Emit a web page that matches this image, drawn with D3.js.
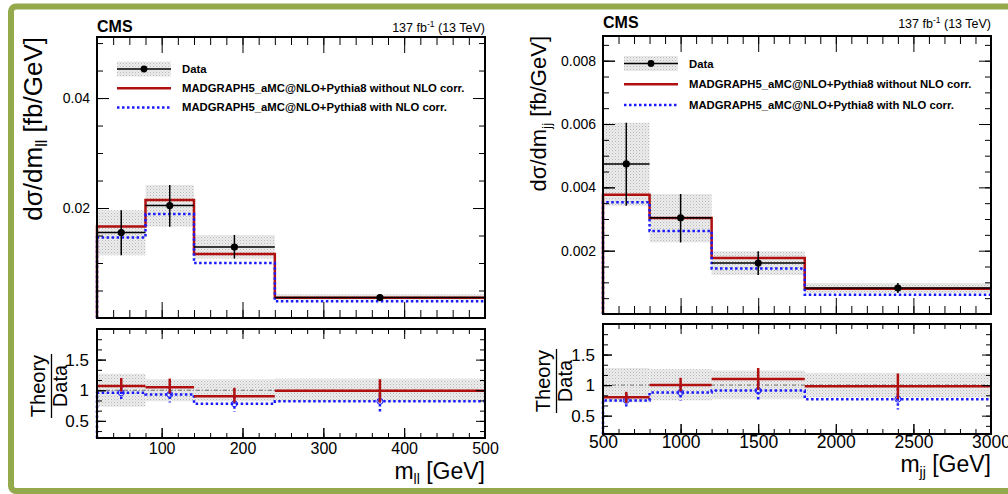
<!DOCTYPE html>
<html>
<head>
<meta charset="utf-8">
<script src="https://cdn.jsdelivr.net/npm/d3@7"></script>
<style>
  html, body { margin: 0; padding: 0; background: #fff; }
  svg { display: block; font-family: "Liberation Sans", Arial, Helvetica, sans-serif; }
</style>
</head>
<body>
<div id="chart"></div>
<script>
// ---- data ----
const legendLabels = ["Data", "MADGRAPH5_aMC@NLO+Pythia8 without NLO corr.", "MADGRAPH5_aMC@NLO+Pythia8 with NLO corr."];

// m_ll panel
const mllEdges = [20, 80, 140, 240, 500];
const mllData = [0.01553, 0.02044, 0.0129, 0.00371];
const mllDataLo = [0.0114, 0.0166, 0.0108, 0.0033];
const mllDataHi = [0.0196, 0.0242, 0.0151, 0.0043];
const mllNoNlo = [0.01662, 0.02145, 0.01164, 0.0037];
const mllWithNlo = [0.01462, 0.0189, 0.0100, 0.00304];
const mllRatioNoNlo = [1.07, 1.05, 0.90, 0.99];
const mllRatioNoNloLo = [0.98, 0.95, 0.80, 0.80];
const mllRatioNoNloHi = [1.20, 1.19, 1.04, 1.18];
const mllRatioWithNlo = [0.96, 0.93, 0.78, 0.82];
const mllRatioWithNloLo = [0.83, 0.80, 0.65, 0.62];
const mllRatioWithNloHi = [1.06, 1.06, 0.90, 1.02];
const mllBandLo = [0.73, 0.82, 0.82, 0.81];
const mllBandHi = [1.27, 1.18, 1.18, 1.19];
const mllYTicks = [0.02, 0.04];
const mllXTicks = [100, 200, 300, 400, 500];

// m_jj panel
const mjjEdges = [500, 800, 1200, 1800, 3000];
const mjjData = [0.00474, 0.00304, 0.00161, 0.00082];
const mjjDataLo = [0.00342, 0.00226, 0.00123, 0.00066];
const mjjDataHi = [0.00604, 0.00379, 0.00198, 0.00098];
const mjjNoNlo = [0.00377, 0.00303, 0.00177, 0.0008];
const mjjWithNlo = [0.00353, 0.00262, 0.00144, 0.00061];
const mjjRatioNoNlo = [0.80, 1.00, 1.10, 0.98];
const mjjRatioNoNloLo = [0.71, 0.90, 0.92, 0.77];
const mjjRatioNoNloHi = [0.89, 1.12, 1.28, 1.19];
const mjjRatioWithNlo = [0.75, 0.88, 0.91, 0.77];
const mjjRatioWithNloLo = [0.65, 0.75, 0.75, 0.60];
const mjjRatioWithNloHi = [0.85, 1.00, 1.05, 0.95];
const mjjBandLo = [0.72, 0.75, 0.77, 0.80];
const mjjBandHi = [1.28, 1.26, 1.24, 1.20];
const mjjYTicks = [0.002, 0.004, 0.006, 0.008];
const mjjXTicks = [500, 1000, 1500, 2000, 2500, 3000];

const ratioTicks = [0.5, 1, 1.5];

const RED = "#b01010", BLUE = "#1a1aff", GREEN = "#94a84c";
const width = 1008, height = 494;

const svg = d3.select("#chart").append("svg")
    .attr("width", width)
    .attr("height", height);

// dotted grey fill used by ROOT for uncertainty bands
const defs = svg.append("defs");
const pat = defs.append("pattern").attr("id", "band")
    .attr("width", 3).attr("height", 3).attr("patternUnits", "userSpaceOnUse");
pat.append("rect").attr("width", 3).attr("height", 3).attr("fill", "#ececec");
pat.append("rect").attr("width", 1).attr("height", 1).attr("fill", "#b8b8b8");
pat.append("rect").attr("x", 1.5).attr("y", 1.5).attr("width", 1).attr("height", 1).attr("fill", "#cfcfcf");

// slide frame
svg.append("rect")
    .attr("x", 11).attr("y", 6.5).attr("width", 1100).attr("height", 484.5)
    .attr("rx", 5)
    .attr("fill", "none").attr("stroke", GREEN).attr("stroke-width", 6);

/** inward ticks on one side of a frame */
const ticks = (g, axisFn, scale, values, len, pos, isX, labels, pad, size) => {
    const ax = axisFn(scale).tickValues(values).tickSize(-len)
        .tickPadding(pad || 6)
        .tickFormat(labels ? labels : "");
    const a = g.append("g")
        .attr("transform", isX ? `translate(0,${pos})` : `translate(${pos},0)`)
        .call(ax);
    a.select(".domain").remove();
    a.selectAll("line").attr("stroke", "#000").attr("stroke-width", 1);
    a.selectAll("text").attr("fill", "#000").attr("font-size", size || 15).attr("font-family", null);
    return a;
};

const minor = (lo, hi, step) => d3.range(Math.ceil(lo / step - 1e-9), Math.floor(hi / step + 1e-9) + 1).map(k => +(k * step).toFixed(6));

const drawPanel = (p) => {
    const g = svg.append("g");
    const x = d3.scaleLinear().domain([p.edges[0], p.edges[p.edges.length - 1]]).range([p.x0, p.x1]);
    const y = d3.scaleLinear().domain(p.yDomain).range([p.mid, p.top]);
    const yr = d3.scaleLinear().domain(p.rDomain).range([p.rbot, p.rtop]);
    const bins = d3.range(p.data.length).map(i => ({
        lo: p.edges[i], hi: p.edges[i + 1], c: (p.edges[i] + p.edges[i + 1]) / 2, i
    }));

    const clipU = "clipU" + p.id, clipR = "clipR" + p.id;
    defs.append("clipPath").attr("id", clipU).append("rect")
        .attr("x", p.x0 - 2).attr("y", p.top).attr("width", p.x1 - p.x0 + 2).attr("height", p.mid - p.top);
    defs.append("clipPath").attr("id", clipR).append("rect")
        .attr("x", p.x0 - 2).attr("y", p.rtop).attr("width", p.x1 - p.x0 + 2).attr("height", p.rbot - p.rtop);

    // ---- upper panel ----
    const up = g.append("g").attr("clip-path", `url(#${clipU})`);
    up.selectAll(".band").data(bins).enter().append("rect")
        .attr("x", d => x(d.lo)).attr("width", d => x(d.hi) - x(d.lo))
        .attr("y", d => y(p.dataHi[d.i])).attr("height", d => y(p.dataLo[d.i]) - y(p.dataHi[d.i]))
        .attr("fill", "url(#band)");

    const step = vals => d3.line().curve(d3.curveStepAfter)
        .x(d => x(d[0])).y(d => d[1])(
            [[p.edges[0], y(0)]]
                .concat(vals.map((v, i) => [p.edges[i], y(v)]))
                .concat([[p.edges[p.edges.length - 1], y(vals[vals.length - 1])]]));

    up.append("path").attr("d", step(p.noNlo))
        .attr("fill", "none").attr("stroke", RED).attr("stroke-width", 2.5);
    up.append("path").attr("d", step(p.withNlo))
        .attr("fill", "none").attr("stroke", BLUE).attr("stroke-width", 2.5)
        .attr("stroke-dasharray", "2.5,2.5");

    up.selectAll(".dh").data(bins).enter().append("line")
        .attr("x1", d => x(d.lo)).attr("x2", d => x(d.hi))
        .attr("y1", d => y(p.data[d.i])).attr("y2", d => y(p.data[d.i]))
        .attr("stroke", "#000").attr("stroke-width", 1.5);
    up.selectAll(".dv").data(bins).enter().append("line")
        .attr("x1", d => x(d.c)).attr("x2", d => x(d.c))
        .attr("y1", d => y(p.dataHi[d.i])).attr("y2", d => y(p.dataLo[d.i]))
        .attr("stroke", "#000").attr("stroke-width", 1.5);
    up.selectAll(".dp").data(bins).enter().append("circle")
        .attr("cx", d => x(d.c)).attr("cy", d => y(p.data[d.i])).attr("r", 3.6)
        .attr("fill", "#000");

    // ---- ratio panel ----
    const rp = g.append("g").attr("clip-path", `url(#${clipR})`);
    rp.selectAll(".rband").data(bins).enter().append("rect")
        .attr("x", d => x(d.lo)).attr("width", d => x(d.hi) - x(d.lo))
        .attr("y", d => yr(p.bandHi[d.i])).attr("height", d => yr(p.bandLo[d.i]) - yr(p.bandHi[d.i]))
        .attr("fill", "url(#band)");
    rp.append("line")
        .attr("x1", p.x0).attr("x2", p.x1).attr("y1", yr(1)).attr("y2", yr(1))
        .attr("stroke", "#555").attr("stroke-width", 0.8).attr("stroke-dasharray", "4,2,1,2");

    const rstep = d3.line().curve(d3.curveStepAfter).x(d => x(d[0])).y(d => d[1])(
        [[p.edges[0], p.rbot]]
            .concat(p.rWith.map((v, i) => [p.edges[i], yr(v)]))
            .concat([[p.edges[p.edges.length - 1], yr(p.rWith[p.rWith.length - 1])]]));
    rp.append("path").attr("d", rstep)
        .attr("fill", "none").attr("stroke", BLUE).attr("stroke-width", 2.5)
        .attr("stroke-dasharray", "2.5,2.5");
    rp.selectAll(".bv").data(bins).enter().append("line")
        .attr("x1", d => x(d.c)).attr("x2", d => x(d.c))
        .attr("y1", d => yr(p.rWithHi[d.i])).attr("y2", d => yr(p.rWithLo[d.i]))
        .attr("stroke", BLUE).attr("stroke-width", 2.5).attr("stroke-dasharray", "2.5,2.5");
    rp.selectAll(".bc").data(bins).enter().append("circle")
        .attr("cx", d => x(d.c)).attr("cy", d => yr(p.rWith[d.i])).attr("r", 3)
        .attr("fill", "none").attr("stroke", BLUE).attr("stroke-width", 1);

    rp.selectAll(".rh").data(bins).enter().append("line")
        .attr("x1", d => x(d.lo)).attr("x2", d => x(d.hi))
        .attr("y1", d => yr(p.rNo[d.i])).attr("y2", d => yr(p.rNo[d.i]))
        .attr("stroke", RED).attr("stroke-width", 2.5);
    rp.selectAll(".rv").data(bins).enter().append("line")
        .attr("x1", d => x(d.c)).attr("x2", d => x(d.c))
        .attr("y1", d => yr(p.rNoHi[d.i])).attr("y2", d => yr(p.rNoLo[d.i]))
        .attr("stroke", RED).attr("stroke-width", 2.5);

    // ---- ticks ----
    const xMinor = minor(p.edges[0], p.edges[p.edges.length - 1], p.xMinorStep);
    [[p.mid, d3.axisBottom], [p.top, d3.axisTop]].forEach(([pos, fn]) => {
        ticks(g, fn, x, xMinor, 8, pos, true);
        ticks(g, fn, x, p.xTicks, 16, pos, true);
    });
    [[p.rbot, d3.axisBottom], [p.rtop, d3.axisTop]].forEach(([pos, fn]) => {
        ticks(g, fn, x, xMinor, 5, pos, true);
        ticks(g, fn, x, p.xTicks, 10, pos, true);
    });
    ticks(g, d3.axisBottom, x, p.xTicks, 10, p.rbot, true, d => d, p.xPad, p.xTickSize);

    const yMinor = minor(p.yDomain[0], p.yDomain[1], p.yMinorStep);
    [[p.x0, d3.axisLeft], [p.x1, d3.axisRight]].forEach(([pos, fn]) => {
        ticks(g, fn, y, yMinor, 6, pos, false);
        ticks(g, fn, y, p.yTicks, 12, pos, false);
    });
    ticks(g, d3.axisLeft, y, p.yTicks, 12, p.x0, false, d3.format(p.yFmt), 7, 14);

    const rMinor = minor(p.rDomain[0], p.rDomain[1], 1 / 6);
    [[p.x0, d3.axisLeft], [p.x1, d3.axisRight]].forEach(([pos, fn]) => {
        ticks(g, fn, yr, rMinor, 5, pos, false);
        ticks(g, fn, yr, ratioTicks, 9, pos, false);
    });
    ticks(g, d3.axisLeft, yr, ratioTicks, 9, p.x0, false, d => d, 8, 17);

    // frames
    [[p.top, p.mid], [p.rtop, p.rbot]].forEach(([t, b]) => {
        g.append("rect").attr("x", p.x0).attr("y", t)
            .attr("width", p.x1 - p.x0).attr("height", b - t)
            .attr("fill", "none").attr("stroke", "#000").attr("stroke-width", 2);
    });

    // ---- legend ----
    const lg = g.append("g");
    lg.append("rect").attr("x", p.legX).attr("y", p.legY - 7.5).attr("width", 54).attr("height", 15)
        .attr("fill", "url(#band)");
    lg.append("line").attr("x1", p.legX).attr("x2", p.legX + 54).attr("y1", p.legY).attr("y2", p.legY)
        .attr("stroke", "#000").attr("stroke-width", 1.5);
    lg.append("circle").attr("cx", p.legX + 27).attr("cy", p.legY).attr("r", 3.4).attr("fill", "#000");
    lg.append("line").attr("x1", p.legX).attr("x2", p.legX + 54)
        .attr("y1", p.legY + p.legDy).attr("y2", p.legY + p.legDy)
        .attr("stroke", RED).attr("stroke-width", 2.5);
    lg.append("line").attr("x1", p.legX).attr("x2", p.legX + 54)
        .attr("y1", p.legY + 2 * p.legDy).attr("y2", p.legY + 2 * p.legDy)
        .attr("stroke", BLUE).attr("stroke-width", 2.5).attr("stroke-dasharray", "2.5,2.5");
    lg.selectAll(".lt").data(legendLabels).enter().append("text")
        .attr("x", p.legX + 65).attr("y", (d, i) => p.legY + i * p.legDy + 4)
        .attr("font-size", 11.3).attr("font-weight", "bold")
        .text(d => d);

    // ---- titles ----
    g.append("text").attr("x", p.x0).attr("y", p.titleY)
        .attr("font-size", 16).attr("font-weight", "bold").text("CMS");
    const lumi = g.append("text").attr("x", p.x1).attr("y", p.titleY)
        .attr("text-anchor", "end").attr("font-size", 12.5);
    lumi.append("tspan").text("137 fb");
    lumi.append("tspan").attr("dy", -5).attr("font-size", 8.5).text("-1");
    lumi.append("tspan").attr("dy", 5).text(" (13 TeV)");

    // y axis title
    const yt = g.append("text")
        .attr("transform", `translate(${p.yLabX},${p.top}) rotate(-90)`)
        .attr("text-anchor", "end").attr("font-size", p.yLabSize);
    yt.append("tspan").text("dσ/dm");
    yt.append("tspan").attr("dy", 5).attr("font-size", p.yLabSize * 0.62).text(p.sub);
    yt.append("tspan").attr("dy", -5).text(" [fb/GeV]");

    // x axis title
    const xt = g.append("text").attr("x", p.x1).attr("y", p.xLabY)
        .attr("text-anchor", "end").attr("font-size", 23);
    xt.append("tspan").text("m");
    xt.append("tspan").attr("dy", 5).attr("font-size", 14).text(p.sub);
    xt.append("tspan").attr("dy", -5).text(" [GeV]");

    // ratio title (fraction)
    const fr = g.append("g").attr("transform", `translate(${p.fracX},${p.fracY}) rotate(-90)`)
        .attr("font-size", 20).attr("text-anchor", "middle");
    fr.append("text").attr("y", -7).text("Theory");
    fr.append("line").attr("x1", -32).attr("x2", 32).attr("stroke", "#000").attr("stroke-width", 1.3);
    fr.append("text").attr("y", 15.5).text("Data");
};

drawPanel({
    id: "ll", edges: mllEdges, data: mllData, dataLo: mllDataLo, dataHi: mllDataHi,
    noNlo: mllNoNlo, withNlo: mllWithNlo,
    rNo: mllRatioNoNlo, rNoLo: mllRatioNoNloLo, rNoHi: mllRatioNoNloHi,
    rWith: mllRatioWithNlo, rWithLo: mllRatioWithNloLo, rWithHi: mllRatioWithNloHi,
    bandLo: mllBandLo, bandHi: mllBandHi,
    x0: 97, x1: 485, top: 37, mid: 318, rtop: 329, rbot: 438,
    yDomain: [0, 0.0511], rDomain: [0.22, 2.0],
    yTicks: mllYTicks, xTicks: mllXTicks, yMinorStep: 0.005, xMinorStep: 20, yFmt: ".2f",
    xPad: 5, xTickSize: 16, legX: 117, legY: 69, legDy: 19.2, titleY: 32,
    yLabX: 42, yLabSize: 26, sub: "ll", xLabY: 478.5, fracX: 51.5, fracY: 386
});

drawPanel({
    id: "jj", edges: mjjEdges, data: mjjData, dataLo: mjjDataLo, dataHi: mjjDataHi,
    noNlo: mjjNoNlo, withNlo: mjjWithNlo,
    rNo: mjjRatioNoNlo, rNoLo: mjjRatioNoNloLo, rNoHi: mjjRatioNoNloHi,
    rWith: mjjRatioWithNlo, rWithLo: mjjRatioWithNloLo, rWithHi: mjjRatioWithNloHi,
    bandLo: mjjBandLo, bandHi: mjjBandHi,
    x0: 603, x1: 991, top: 36, mid: 314, rtop: 324, rbot: 434,
    yDomain: [0, 0.00878], rDomain: [0.2, 2.0],
    yTicks: mjjYTicks, xTicks: mjjXTicks, yMinorStep: 0.0005, xMinorStep: 100, yFmt: ".3f",
    xPad: 2, xTickSize: 17.5, legX: 624, legY: 63.5, legDy: 20.8, titleY: 27.5,
    yLabX: 546, yLabSize: 22, sub: "jj", xLabY: 472, fracX: 556.5, fracY: 381
});
</script>
</body>
</html>
